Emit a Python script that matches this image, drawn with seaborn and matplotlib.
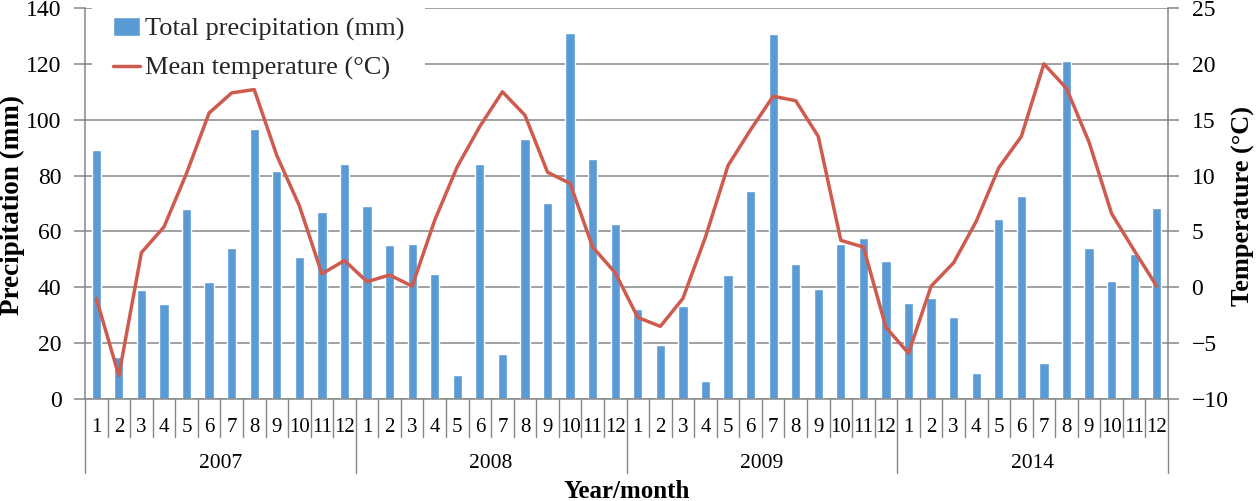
import numpy as np
import pandas as pd
import matplotlib
matplotlib.use("Agg")
import matplotlib.pyplot as plt
import matplotlib.transforms as mtransforms
import seaborn as sns

# Datos
years = ["2007", "2008", "2009", "2014"]
months = [str(m) for m in range(1, 13)]

precip_2007 = [89, 15, 39, 34, 68, 42, 54, 96.5, 81.5, 51, 66.8, 84.3]
precip_2008 = [69.2, 55.2, 55.6, 44.8, 8.7, 84.3, 16.2, 93.2, 70.3, 131, 85.9, 62.8]
precip_2009 = [32.3, 19.4, 33.4, 6.5, 44.5, 74.6, 130.7, 48.4, 39.4, 55.5, 57.7, 49.5]
precip_2014 = [34.5, 36.3, 29.5, 9.4, 64.5, 72.8, 12.9, 121, 54.2, 42.3, 52, 68.5]

temp_2007 = [-1.0, -7.9, 3.1, 5.4, 10.2, 15.6, 17.4, 17.7, 11.8, 7.3, 1.2, 2.4]
temp_2008 = [0.5, 1.1, 0.1, 6.0, 10.8, 14.4, 17.5, 15.4, 10.3, 9.3, 3.6, 1.3]
temp_2009 = [-2.7, -3.5, -1.0, 4.5, 10.9, 14.1, 17.1, 16.7, 13.5, 4.2, 3.6, -3.6]
temp_2014 = [-5.9, 0.1, 2.2, 5.9, 10.7, 13.5, 20.0, 17.8, 13.0, 6.6, 3.3, 0.1]

BAR_COLOR = "#5B9BD5"
LINE_COLOR = "#CE5B4E"
GRID_COLOR = "#868686"

df = pd.DataFrame({
    "idx": np.arange(48),
    "year": np.repeat(years, 12),
    "month": months * 4,
    "precip": precip_2007 + precip_2008 + precip_2009 + precip_2014,
    "temp": temp_2007 + temp_2008 + temp_2009 + temp_2014,
})

sns.set_theme(style="white")
plt.rcParams["font.family"] = ["Liberation Serif", "DejaVu Serif"]

fig = plt.figure(figsize=(12.58, 5.01), dpi=100)
ax = fig.add_axes([85 / 1258, 1 - 399 / 501, 1083 / 1258, 391 / 501])

# Barras de precipitacion
sns.barplot(data=df, x="idx", y="precip", color=BAR_COLOR, saturation=1,
            width=0.41, ax=ax, zorder=2)
ax.set_xlim(-0.5, 47.5)
ax.set_ylim(0, 140)
ax.set_yticks(np.arange(0, 141, 20))
ax.set_axisbelow(True)
ax.yaxis.grid(True, color=GRID_COLOR, linewidth=1.1)
ax.xaxis.grid(False)

# Linea de temperatura
ax2 = ax.twinx()
sns.lineplot(data=df, x="idx", y="temp", color=LINE_COLOR, linewidth=2.5,
             ax=ax2, sort=False)
ax2.set_ylim(-10, 25)
ax2.set_yticks(np.arange(-10, 26, 5))
ax2.grid(False)

for a in (ax, ax2):
    for side in a.spines:
        a.spines[side].set_visible(False)
ax.spines["left"].set_visible(True)
ax.spines["bottom"].set_visible(True)
ax2.spines["right"].set_visible(True)
for sp in (ax.spines["left"], ax.spines["bottom"], ax2.spines["right"]):
    sp.set_color(GRID_COLOR)
    sp.set_linewidth(1.1)

ax.tick_params(axis="y", direction="out", length=8, width=1.1, color=GRID_COLOR,
               labelsize=17, pad=9, left=True, labelcolor="black")
ax2.tick_params(axis="y", direction="out", length=8, width=1.1, color=GRID_COLOR,
                labelsize=17, pad=9, right=True, labelcolor="black")

# Etiquetas de meses
ax.set_xticks(np.arange(48))
ax.set_xticklabels(df["month"])
ax.tick_params(axis="x", length=0, pad=13.5, labelsize=15, labelcolor="black")

# Separadores y etiquetas de anios
trans = mtransforms.blended_transform_factory(ax.transData, ax.transAxes)
for k in range(49):
    low = -0.19 if k % 12 == 0 else -0.097
    ax.plot([k - 0.5, k - 0.5], [0, low], transform=trans, color=GRID_COLOR,
            linewidth=1.0, clip_on=False)
for i, y in enumerate(years):
    ax.text(12 * i + 5.5, -0.165, y, transform=trans, ha="center", va="center",
            fontsize=15.5, color="black")

ax.set_xlabel("Year/month", fontsize=18, fontweight="bold", color="black")
ax.xaxis.set_label_coords(0.5, -(491 - 399) / 391)
ax.xaxis.label.set_va("center")
ax.set_ylabel("Precipitation (mm)", fontsize=19.5, fontweight="bold", color="black")
ax.yaxis.set_label_coords((12 - 85) / 1083, (399 - 205) / 391)
ax.yaxis.label.set_va("center")
ax2.set_ylabel("Temperature (°C)", fontsize=19, fontweight="bold", color="black",
               rotation=90)
ax2.yaxis.set_label_coords((1243 - 85) / 1083, (399 - 206) / 391)
ax2.yaxis.label.set_va("center")

# Leyenda (en ax, asi la linea de temperatura queda por encima)
handles = [ax.patches[0], ax2.lines[0]]
labels = ["Total precipitation (mm)", "Mean temperature (°C)"]
leg = ax.legend(handles, labels, loc="upper left", bbox_to_anchor=(7 / 1083, 1.03),
                borderaxespad=0, fontsize=19, frameon=True, fancybox=False,
                framealpha=1, facecolor="white", edgecolor="white",
                handlelength=1.0, handletextpad=0.2, labelspacing=0.58,
                borderpad=0.8)
leg.get_frame().set_linewidth(0)
leg.set_zorder(10)

fig.savefig("out.png", dpi=100)
